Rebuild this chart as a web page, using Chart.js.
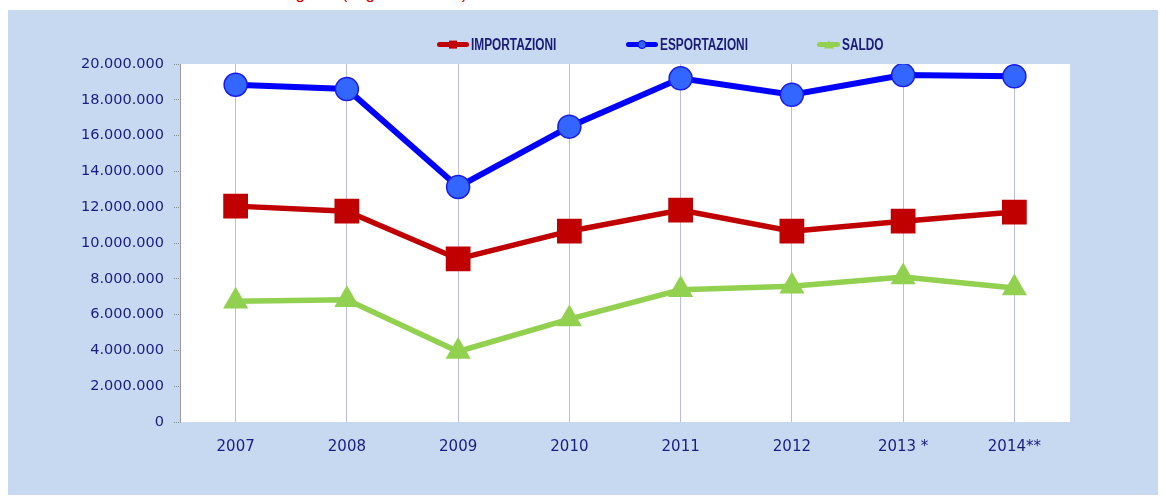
<!DOCTYPE html>
<html>
<head>
<meta charset="utf-8">
<script src="https://cdn.jsdelivr.net/npm/chart.js@4/dist/chart.umd.min.js"></script>
<style>
  body { margin: 0; background: #fff; width: 1166px; height: 499px; position: relative; overflow: hidden; }
  #title { position: absolute; left: 30px; top: 0; height: 6px; overflow: hidden; }
  #title span { position: relative; top: -16px; font: 17px "Liberation Sans", Arial, sans-serif; color: #cc0000; white-space: nowrap; }
  #panel { position: absolute; left: 8px; top: 10px; width: 1150px; height: 485px; background: #c6d9f1; }
  #legend { position: absolute; top: 25px; left: 0; width: 1150px; height: 20px; font: bold 16px "Liberation Sans", Arial, sans-serif; color: #1a1a7a; }
  .item { position: absolute; top: 0; display: flex; align-items: center; height: 20px; }
  .item span { display: inline-block; transform: scaleX(0.74); transform-origin: 0 50%; white-space: nowrap; }
  .sym { position: relative; height: 20px; margin-right: 2px; flex: none; }
  .sym .ln { position: absolute; left: 0; right: 0; top: 7px; height: 5px; border-radius: 3px; }
  .sym .mk { position: absolute; left: 50%; top: 50%; transform: translate(-50%, -55%); }
</style>
</head>
<body>
<div id="title"><span>Interscambio commerciale della Regione (migliaia di euro)</span></div>
<div id="panel">
  <canvas id="chart" width="1150" height="485"></canvas>
  <div id="legend"></div>
</div>
<script>
const years = ['2007', '2008', '2009', '2010', '2011', '2012', '2013 *', '2014**'];
const importazioni = [12060000, 11780000, 9110000, 10660000, 11840000, 10660000, 11220000, 11730000];
const esportazioni = [18840000, 18600000, 13130000, 16500000, 19200000, 18280000, 19380000, 19310000];
const saldo = [6740000, 6830000, 3940000, 5750000, 7390000, 7580000, 8100000, 7490000];
const yTicks = { min: 0, max: 20000000, step: 2000000 };

const navy = '#1b1b87';
const fmt = v => String(v).replace(/\B(?=(\d{3})+(?!\d))/g, '.');

// white plotting area inside the blue panel
const plotBg = {
    id: 'plotBg',
    beforeDraw(chart) {
        const a = chart.chartArea, c = chart.ctx;
        c.save();
        c.fillStyle = '#fff';
        c.fillRect(a.left, a.top, a.right - a.left, a.bottom - a.top);
        c.restore();
    }
};

const chart = new Chart(document.getElementById('chart'), {
    type: 'line',
    data: {
        labels: years,
        datasets: [
            {
                label: 'IMPORTAZIONI',
                data: importazioni,
                borderColor: '#c00000',
                backgroundColor: '#c00000',
                borderWidth: 5.5,
                pointStyle: 'rect',
                pointRadius: 17.5,
                pointBorderWidth: 0,
                pointBackgroundColor: '#c00000'
            },
            {
                label: 'ESPORTAZIONI',
                data: esportazioni,
                borderColor: '#0000ff',
                backgroundColor: '#3366ff',
                borderWidth: 6,
                pointStyle: 'circle',
                pointRadius: 11.5,
                pointBorderWidth: 1.5,
                pointBorderColor: '#1a1aee',
                pointBackgroundColor: '#3366ff'
            },
            {
                label: 'SALDO',
                data: saldo,
                borderColor: '#92d050',
                backgroundColor: '#92d050',
                borderWidth: 5.5,
                pointStyle: 'triangle',
                pointRadius: 14.5,
                pointBorderWidth: 0,
                pointBackgroundColor: '#92d050'
            }
        ]
    },
    options: {
        responsive: false,
        animation: false,
        layout: { padding: { top: 54, right: 88, bottom: 33, left: 0 } },
        plugins: {
            legend: { display: false },
            tooltip: { enabled: false }
        },
        scales: {
            x: {
                offset: true,
                afterFit: s => { s.height = 40; },
                grid: { offset: false, color: '#bdbde0', lineWidth: 1, drawTicks: false },
                border: { display: false },
                ticks: { color: navy, padding: 16, font: { family: 'DejaVu Sans', size: 15 } }
            },
            y: {
                min: yTicks.min,
                max: yTicks.max,
                afterFit: s => { s.width = 172; },
                grid: { drawOnChartArea: false, tickLength: 6, color: '#8a8a8a', tickBorderDash: [1, 1] },
                border: { color: '#9a9a9a', dash: [1, 1] },
                ticks: {
                    stepSize: yTicks.step,
                    color: navy,
                    padding: 10,
                    font: { family: 'DejaVu Sans', size: 14.5 },
                    callback: v => fmt(v)
                }
            }
        }
    },
    plugins: [plotBg]
});

// legend as plain html, placed like the original (line with a small marker)
const legendItems = [
    { text: 'IMPORTAZIONI', color: '#c00000', left: 429, w: 32, mk: '<div style="width:8px;height:8px;background:#c00000"></div>' },
    { text: 'ESPORTAZIONI', color: '#0000ff', left: 618, w: 32, mk: '<div style="width:7px;height:7px;border-radius:50%;background:#3366ff;border:1.5px solid #0000ff"></div>' },
    { text: 'SALDO', color: '#92d050', left: 809, w: 23, mk: '<div style="width:0;height:0;border-left:5px solid transparent;border-right:5px solid transparent;border-bottom:8px solid #92d050"></div>' }
];
const lg = document.getElementById('legend');
legendItems.forEach(it => {
    const d = document.createElement('div');
    d.className = 'item';
    d.style.left = it.left + 'px';
    d.innerHTML = '<div class="sym" style="width:' + it.w + 'px"><div class="ln" style="background:' + it.color + '"></div><div class="mk">' + it.mk + '</div></div><span>' + it.text + '</span>';
    lg.appendChild(d);
});
</script>
</body>
</html>
